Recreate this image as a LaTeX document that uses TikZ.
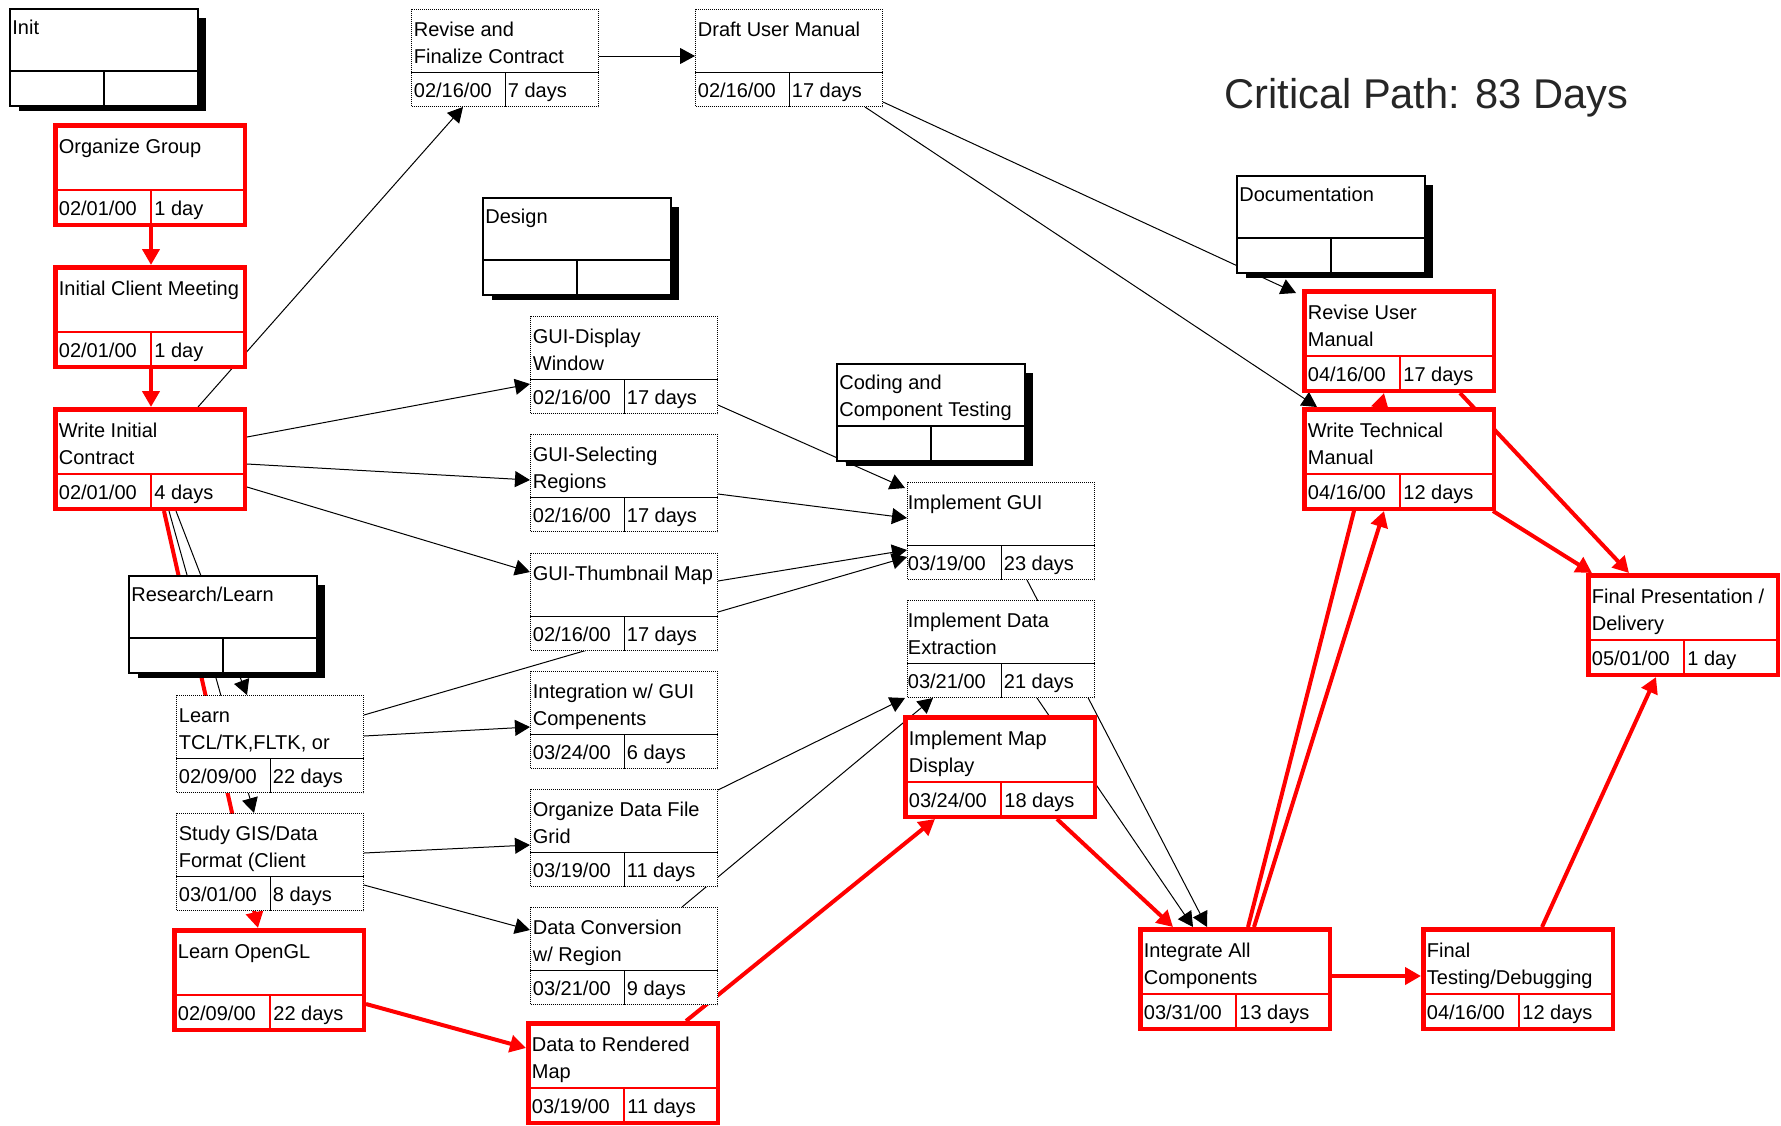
\documentclass[tikz,border=0pt]{standalone}
\usepackage{fontspec}
\setmainfont{Liberation Sans}
\usetikzlibrary{arrows.meta,calc}
\pgfdeclarelayer{bg}
\pgfdeclarelayer{edges}
\pgfsetlayers{bg,edges,main}

\tikzset{
  every node/.style={font=\fontsize{10pt}{13.5pt}\selectfont},
  dbx/.style={draw=black, dash pattern=on 0.5pt off 0.5pt, line width=0.5pt, fill=white,
    minimum width=93.5pt, minimum height=48.5pt, inner sep=0pt, outer sep=0.25pt},
  rbx/.style={draw=red, line width=2.25pt, fill=white,
    minimum width=94.75pt, minimum height=49.75pt, inner sep=0pt, outer sep=1.125pt},
  gbx/.style={draw=black, line width=0.75pt, fill=white,
    minimum width=94pt, minimum height=48.5pt, inner sep=0pt, outer sep=0.375pt},
  txt/.style={inner sep=0pt, align=left, anchor=north west},
  val/.style={inner sep=0pt, anchor=base west},
  dline/.style={black, line width=0.5pt},
  gline/.style={black, line width=0.6pt},
  rline/.style={red, line width=0.6pt},
  blk/.style={black, line width=0.5pt, -{Triangle[length=7.5pt,width=8pt]}},
  crit/.style={red, line width=2pt, -{Triangle[length=8pt,width=8.5pt]}},
}

% dotted task box: name, x, y, title, date, duration, text offset
\newcommand{\dbox}[7]{%
  \node[dbx, anchor=north west] (#1) at (#2,#3) {};
  \draw[dline] ($(#1.north west)+(0,63)$) -- ($(#1.north east)+(0,63)$);
  \draw[dline] ($(#1.north west)+(94,63)$) -- ($(#1.south west)+(94,0)$);
  \node[txt] (#1t) at ($(#1.north west)+(#7,8)$) {\strut #4};
  \node[val] (#1d) at ($(#1.south west)+(#7,-10)$) {#5};
  \node[val] (#1u) at ($(#1.south west)+(96.5,-10)$) {#6};
}
% red critical task box: name, x, y, title, date, duration
\newcommand{\rbox}[6]{%
  \node[rbx, anchor=north west] (#1) at (#2,#3) {};
  \draw[rline] ($(#1.north west)+(0,67)$) -- ($(#1.north east)+(0,67)$);
  \draw[rline] ($(#1.north west)+(98,67)$) -- ($(#1.south west)+(98,0)$);
  \node[txt] (#1t) at ($(#1.north west)+(5.5,11)$) {\strut #4};
  \node[val] (#1d) at ($(#1.south west)+(5.5,-12)$) {#5};
  \node[val] (#1u) at ($(#1.south west)+(101,-12)$) {#6};
}
% group (summary) box with shadow: name, x, y, title
\newcommand{\gbox}[4]{%
  \fill[black] (#2+10,#3+10) rectangle (#2+197,#3+103);
  \node[gbx, anchor=north west] (#1) at (#2,#3) {};
  \draw[gline] ($(#1.north west)+(0,63)$) -- ($(#1.north east)+(0,63)$);
  \draw[gline] ($(#1.north west)+(95,63)$) -- ($(#1.south west)+(95,0)$);
  \node[txt] (#1t) at ($(#1.north west)+(3,7)$) {\strut #4};
}

\begin{document}
\begin{tikzpicture}[x=0.5pt,y=-0.5pt]
\useasboundingbox (0,0) rectangle (1781,1125);
\begin{pgfonlayer}{bg}
  \fill[white] (0,0) rectangle (1781,1125);
\end{pgfonlayer}

\node[inner sep=0pt, anchor=base west, font=\fontsize{20.8pt}{25pt}\selectfont, text=black!85] (cp) at (1224,108) {Critical Path: 83 Days};

\gbox{init}{9}{8}{Init}
\rbox{org}{53}{123}{Organize Group}{02/01/00}{1 day}
\rbox{icm}{53}{265}{Initial Client Meeting}{02/01/00}{1 day}
\rbox{wic}{53}{407}{Write Initial\\Contract}{02/01/00}{4 days}
\dbox{rfc}{411}{9}{Revise and\\Finalize Contract}{02/16/00}{7 days}{2.5}
\dbox{dum}{695}{9}{Draft User Manual}{02/16/00}{17 days}{2.5}
\gbox{design}{482}{197}{Design}
\dbox{gdw}{530}{316}{GUI-Display\\Window}{02/16/00}{17 days}{2.5}
\dbox{gsr}{530}{434}{GUI-Selecting\\Regions}{02/16/00}{17 days}{2.5}
\dbox{gtm}{530}{553}{GUI-Thumbnail Map}{02/16/00}{17 days}{2.5}
\dbox{igc}{530}{671}{Integration w/ GUI\\Compenents}{03/24/00}{6 days}{2.5}
\dbox{odf}{530}{789}{Organize Data File\\Grid}{03/19/00}{11 days}{2.5}
\dbox{dcr}{530}{907}{Data Conversion\\w/ Region}{03/21/00}{9 days}{2.5}
\rbox{drm}{526}{1021}{Data to Rendered\\Map}{03/19/00}{11 days}
\gbox{rsl}{128}{575}{Research/Learn}
\dbox{ltk}{176}{695}{Learn\\TCL/TK,FLTK, or}{02/09/00}{22 days}{2.5}
\dbox{sgd}{176}{813}{Study GIS/Data\\Format (Client}{03/01/00}{8 days}{2.5}
\rbox{lgl}{172}{928}{Learn OpenGL}{02/09/00}{22 days}
\gbox{cct}{836}{363}{Coding and\\Component Testing}
\dbox{igu}{907}{482}{Implement GUI}{03/19/00}{23 days}{0.5}
\dbox{ide}{907}{600}{Implement Data\\Extraction}{03/21/00}{21 days}{0.5}
\rbox{imd}{903}{715}{Implement Map\\Display}{03/24/00}{18 days}
\gbox{docu}{1236}{175}{Documentation}
\rbox{rum}{1302}{289}{Revise User\\Manual}{04/16/00}{17 days}
\rbox{wtm}{1302}{407}{Write Technical\\Manual}{04/16/00}{12 days}
\rbox{iac}{1138}{927}{Integrate All\\Components}{03/31/00}{13 days}
\rbox{ftd}{1421}{927}{Final\\Testing/Debugging}{04/16/00}{12 days}
\rbox{fpd}{1586}{573}{Final Presentation /\\Delivery}{05/01/00}{1 day}

\begin{pgfonlayer}{edges}
% black connectors
\draw[blk] ($(wic.north west)+(145,0)$) -- ($(rfc.south west)+(52,0)$);
\draw[blk] ($(rfc.north east)+(0,47)$) -- ($(dum.north west)+(0,47)$);
\draw[blk] ($(dum.north east)+(0,93)$) -- ($(rum.north west)+(-6,4)$);
\draw[blk] ($(dum.south west)+(170,0)$) -- ($(wtm.north west)+(15,0)$);
\draw[blk] ($(wic.north east)+(0,30)$) -- ($(gdw.north west)+(0,68)$);
\draw[blk] ($(wic.north east)+(0,57)$) -- ($(gsr.north west)+(0,46)$);
\draw[blk] ($(wic.north east)+(0,80)$) -- ($(gtm.north west)+(0,19)$);
\draw[blk] ($(gdw.north east)+(0,89)$) -- ($(igu.north west)+(-2,6)$);
\draw[blk] ($(gsr.north east)+(0,60)$) -- ($(igu.north west)+(0,36)$);
\draw[blk] ($(gtm.north east)+(0,28)$) -- ($(igu.north west)+(0,68)$);
\draw[blk] ($(ltk.north east)+(0,20)$) -- ($(igu.north west)+(0,75)$);
\draw[blk] ($(ltk.north east)+(0,41)$) -- ($(igc.north west)+(0,56)$);
\draw[blk] ($(sgd.north east)+(0,40)$) -- ($(odf.north west)+(0,56)$);
\draw[blk] ($(sgd.north east)+(0,72)$) -- ($(dcr.north west)+(0,23)$);
\draw[blk] ($(odf.north east)+(0,1)$) -- ($(ide.south west)+(-2,0)$);
\draw[blk] ($(dcr.north west)+(152,0)$) -- ($(ide.south west)+(26,0)$);
\draw[blk] ($(igu.south west)+(120,0)$) -- ($(iac.north west)+(69,0)$);
\draw[blk] ($(ide.south west)+(130,0)$) -- ($(iac.north west)+(55,0)$);
\draw[blk] ($(wic.south west)+(116,0)$) -- ($(sgd.north west)+(78,0)$);
\draw[blk] ($(wic.south west)+(123,0)$) -- ($(ltk.north west)+(71,0)$);
% critical path
\draw[crit] ($(org.south west)+(98,0)$) -- ($(icm.north west)+(98,0)$);
\draw[crit] ($(icm.south west)+(98,0)$) -- ($(wic.north west)+(98,0)$);
\draw[crit] ($(wic.south west)+(111,0)$) -- ($(lgl.north west)+(86,0)$);
\draw[crit] ($(lgl.north east)+(0,76)$) -- ($(drm.north west)+(0,27)$);
\draw[crit] ($(drm.north west)+(160,0)$) -- ($(imd.south west)+(32,0)$);
\draw[crit] ($(imd.south west)+(154,0)$) -- ($(iac.north west)+(35,0)$);
\draw[crit] ($(iac.north west)+(110,0)$) -- ($(rum.south west)+(82,0)$);
\draw[crit] ($(iac.north west)+(116,0)$) -- ($(wtm.south west)+(82,0)$);
\draw[crit] ($(rum.south west)+(158,0)$) -- ($(fpd.north west)+(43,0)$);
\draw[crit] ($(wtm.south east)+(-3,0)$) -- ($(fpd.north west)+(6,0)$);
\draw[crit] ($(iac.north east)+(0,49)$) -- ($(ftd.north west)+(0,49)$);
\draw[crit] ($(ftd.north west)+(121,0)$) -- ($(fpd.south west)+(70,0)$);
\end{pgfonlayer}
\end{tikzpicture}
\end{document}
